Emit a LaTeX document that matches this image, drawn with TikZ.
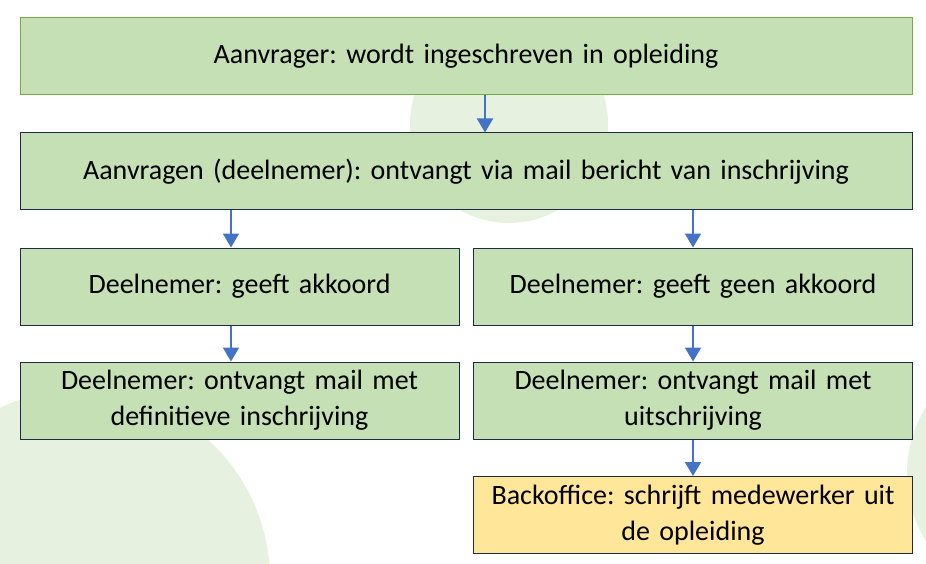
\documentclass[tikz,border=0pt]{standalone}
\usepackage{fontspec}
\setmainfont{Carlito}
\usetikzlibrary{arrows.meta}
\definecolor{boxgreen}{HTML}{C5E0B4}
\definecolor{boxyellow}{HTML}{FFE699}
\definecolor{edgegreen}{HTML}{70AD47}
\definecolor{edgedark}{HTML}{1F2B45}
\definecolor{arrowblue}{HTML}{4472C4}
\definecolor{bgcircle}{HTML}{E6F1E0}
\frenchspacing
\begin{document}
\begin{tikzpicture}[x=1pt, y=-1pt,
        stepbox/.style={draw=edgedark, line width=1pt, fill=boxgreen, minimum height=77pt,
            align=center, inner sep=0pt, font=\fontsize{28}{36}\selectfont},
        widebox/.style={stepbox, minimum width=892pt, text width=880pt},
        halfbox/.style={stepbox, minimum width=439pt, text width=430pt},
        flow/.style={-{Triangle[width=16pt, length=14pt]}, arrowblue, line width=2pt}]
        \useasboundingbox (0,0) rectangle (926,564);

        % ===== background circles =====
        \begin{scope}
            \clip (0,0) rectangle (926,564);
            \fill[bgcircle] (509,124) circle (99);
            \fill[bgcircle] (80,580) circle (190);
            \fill[bgcircle] (1035,474) circle (128);
        \end{scope}

        % ===== boxes =====
        \node[widebox, draw=edgegreen] (inschrijf) at (466,56.5) {Aanvrager: wordt ingeschreven in opleiding};
        \node[widebox] (bericht) at (466,171.5) {Aanvragen (deelnemer): ontvangt via mail bericht van inschrijving};
        \node[halfbox] (akkoord) at (239.5,286.5) {Deelnemer: geeft akkoord};
        \node[halfbox] (geen) at (693,286.5) {Deelnemer: geeft geen akkoord};
        \node[halfbox] (definitief) at (239.5,400.5) {Deelnemer: ontvangt mail met\\definitieve inschrijving};
        \node[halfbox] (uitschrijf) at (693,400.5) {Deelnemer: ontvangt mail met\\uitschrijving};
        \node[halfbox, fill=boxyellow] (backoffice) at (693,515) {Backoffice: schrijft medewerker uit\\de opleiding};

        % ===== arrows =====
        \draw[flow] ([xshift=19pt]inschrijf.south) -- ([xshift=19pt]bericht.north);
        \draw[flow] ([xshift=-8.5pt]bericht.south -| akkoord) -- ([xshift=-8.5pt]akkoord.north);
        \draw[flow] (bericht.south -| geen) -- (geen.north);
        \draw[flow] ([xshift=-8.5pt]akkoord.south) -- ([xshift=-8.5pt]definitief.north);
        \draw[flow] (geen.south) -- (uitschrijf.north);
        \draw[flow] (uitschrijf.south) -- (backoffice.north);
    \end{tikzpicture}
\end{document}
